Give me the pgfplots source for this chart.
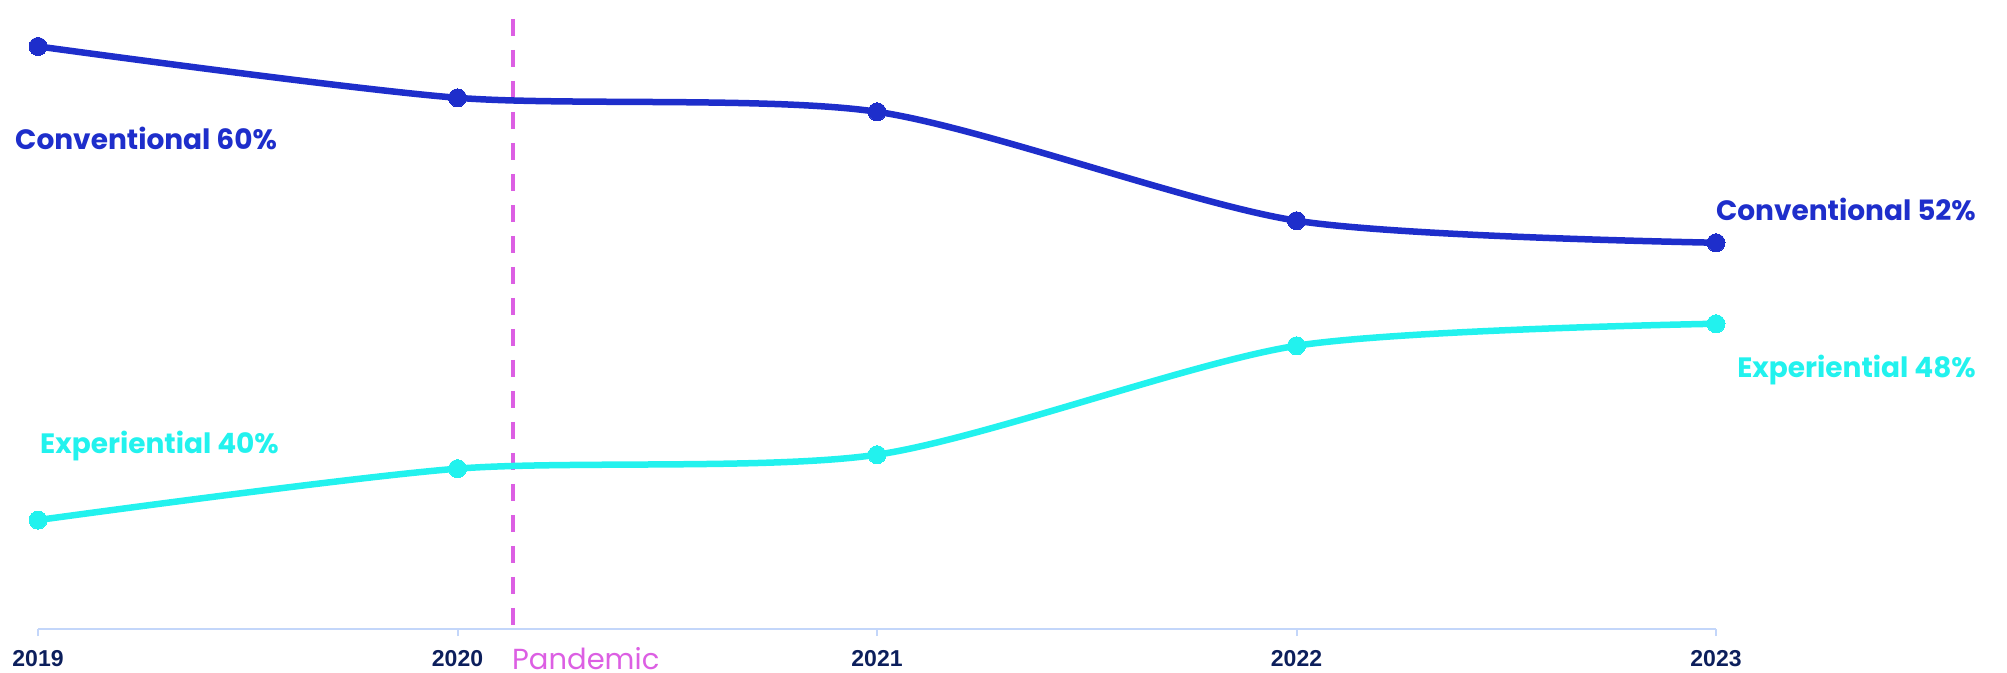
\documentclass[border=0pt]{standalone}
\usepackage{fontspec}
\usepackage{pgfplots}
\pgfplotsset{compat=1.18}
\setmainfont{Liberation Sans}
\newfontfamily\pop{Poppins}
\definecolor{conv}{RGB}{30,46,203}
\definecolor{expc}{RGB}{34,242,238}
\definecolor{pand}{RGB}{220,95,227}
\definecolor{axisc}{RGB}{195,214,250}
\definecolor{labc}{RGB}{12,31,92}

\pgfplotstableread{
year val
2019 60.00
2020 57.83
2021 57.24
2022 52.64
2023 51.71
}\convdata
\pgfplotstableread{
year val
2019 40.00
2020 42.17
2021 42.76
2022 47.36
2023 48.29
}\expdata

\begin{document}
\begin{tikzpicture}[x=1pt,y=1pt]
\clip (0,-43) rectangle (2007,629);
\begin{axis}[
  at={(0,0)}, anchor=south west,
  scale only axis, width=2007pt, height=629pt,
  xmin=2018.9094, xmax=2023.6937, ymin=35.40, ymax=61.96,
  axis y line=none,
  axis x line=bottom,
  x axis line style={draw=none,-},
  xtick={2019,2020,2021,2022,2023},
  xticklabels={2019,2020,2021,2022,2023},
  tick align=outside,
  major tick length=7pt,
  xtick style={draw=axisc, line width=2pt},
  xticklabel style={font=\fontsize{23}{27}\selectfont\bfseries, text=labc, inner sep=0pt, anchor=north, yshift=-14pt},
  clip=false,
]
\addplot[axisc, line width=2.5pt, forget plot] coordinates {(2019,35.40) (2023,35.40)};
\addplot[pand, line width=4.5pt, dash pattern=on 17pt off 14pt] coordinates {(2020.1323,61.16) (2020.1323,35.55)};
\addplot[conv, line width=6.5pt, smooth, tension=0.45, mark=*, mark size=9pt, mark options={solid, fill=conv, draw=conv, line width=0pt}] table[x=year,y=val] {\convdata};
\addplot[expc, line width=6.5pt, smooth, tension=0.45, mark=*, mark size=9pt, mark options={solid, fill=expc, draw=expc, line width=0pt}] table[x=year,y=val] {\expdata};
\end{axis}
\node[anchor=base west, inner sep=0pt, text=conv, font=\pop\fontsize{28}{33}\selectfont\bfseries] at (15,479) {Conventional 60\%};
\node[anchor=base west, inner sep=0pt, text=expc, font=\pop\fontsize{28}{33}\selectfont\bfseries] at (40,175) {Experiential 40\%};
\node[anchor=base east, inner sep=0pt, text=conv, font=\pop\fontsize{28}{33}\selectfont\bfseries] at (1976,408) {Conventional 52\%};
\node[anchor=base east, inner sep=0pt, text=expc, font=\pop\fontsize{28}{33}\selectfont\bfseries] at (1976,251) {Experiential 48\%};
\node[anchor=base west, inner sep=0pt, text=pand, font=\pop\fontsize{29}{34}\selectfont] at (512,-40) {Pandemic};
\end{tikzpicture}
\end{document}
